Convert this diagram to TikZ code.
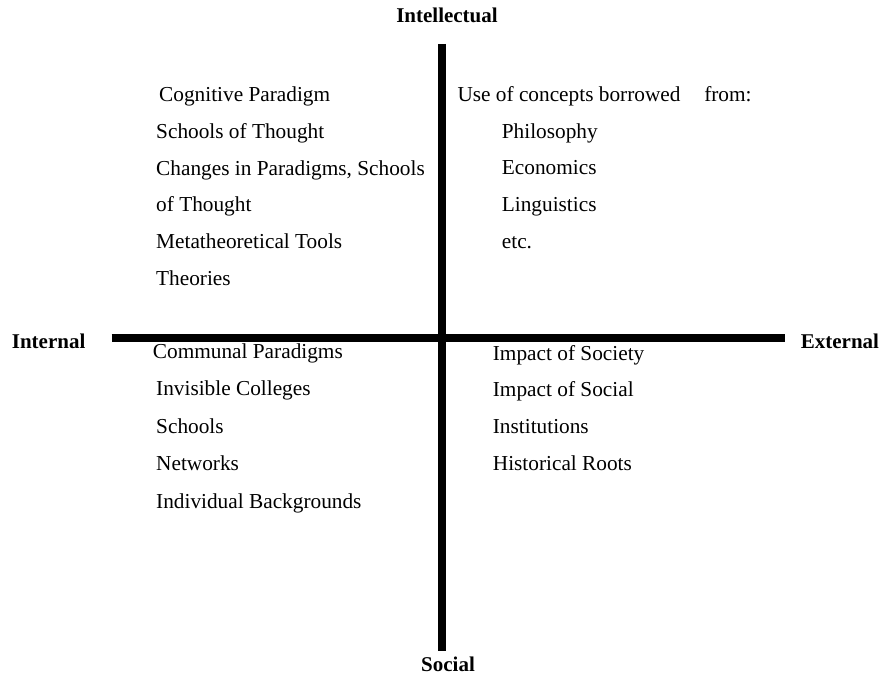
\documentclass[tikz,border=0pt]{standalone}
\usepackage{fontspec}
\setmainfont{Liberation Serif}
\usetikzlibrary{positioning}
\tikzstyle{item} = [inner sep=0pt, anchor=base west, font=\fontsize{21.3}{25}\selectfont]
\tikzstyle{pole} = [inner sep=0pt, font=\fontsize{21}{25}\selectfont\bfseries]
\tikzstyle{axis} = [line width=7.4pt, black]
\begin{document}
\begin{tikzpicture}[x=1pt,y=-1pt]
    \useasboundingbox (0,0) rectangle (881,676);
    % axes
    \coordinate (top) at (442,44);
    \coordinate (bottom) at (442,650.5);
    \coordinate (left) at (111.7,338);
    \coordinate (right) at (785,338);
    \draw[axis] (top) -- (bottom);
    \draw[axis] (left) -- (right);
    \node[pole, anchor=base] (intel) at (447,23) {Intellectual};
    \node[pole, anchor=base] (social) at (448,671) {Social};
    \node[pole, anchor=base west] (internal) at (11.7,348.3) {Internal};
    \node[pole, anchor=base west] (external) at (800.7,348.3) {External};
    % intellectual / internal
    \node[item] (cog) at (159,101.7) {Cognitive Paradigm};
    \node[item] (sot) [below=36.7pt of cog.base west, anchor=base west, xshift=-3pt] {Schools of Thought};
    \node[item] (chg) [below=36.7pt of sot.base west, anchor=base west] {Changes in Paradigms, Schools};
    \node[item] (oft) [below=36.7pt of chg.base west, anchor=base west] {of Thought};
    \node[item] (meta) [below=36.7pt of oft.base west, anchor=base west] {Metatheoretical Tools};
    \node[item] (theo) [below=36.7pt of meta.base west, anchor=base west] {Theories};
    % intellectual / external
    \node[item] (use) at (457.3,101.7) {Use of concepts borrowed\hspace{18.5pt} from:};
    \node[item] (phil) at (501.7,138.3) {Philosophy};
    \node[item] (eco) [below=36.7pt of phil.base west, anchor=base west] {Economics};
    \node[item] (ling) [below=36.7pt of eco.base west, anchor=base west] {Linguistics};
    \node[item] (etc) [below=36.7pt of ling.base west, anchor=base west] {etc.};
    % social / internal
    \node[item] (comm) at (152.7,358.3) {Communal Paradigms};
    \node[item] (inv) [below=37.6pt of comm.base west, anchor=base west, xshift=3.3pt] {Invisible Colleges};
    \node[item] (sch) [below=37.4pt of inv.base west, anchor=base west] {Schools};
    \node[item] (net) [below=37.4pt of sch.base west, anchor=base west] {Networks};
    \node[item] (ind) [below=37.4pt of net.base west, anchor=base west] {Individual Backgrounds};
    % social / external
    \node[item] (soc) at (492.7,360) {Impact of Society};
    \node[item] (inst) [below=36.7pt of soc.base west, anchor=base west] {Impact of Social};
    \node[item] (ins) [below=36.7pt of inst.base west, anchor=base west] {Institutions};
    \node[item] (hist) [below=36.7pt of ins.base west, anchor=base west] {Historical Roots};
\end{tikzpicture}
\end{document}
